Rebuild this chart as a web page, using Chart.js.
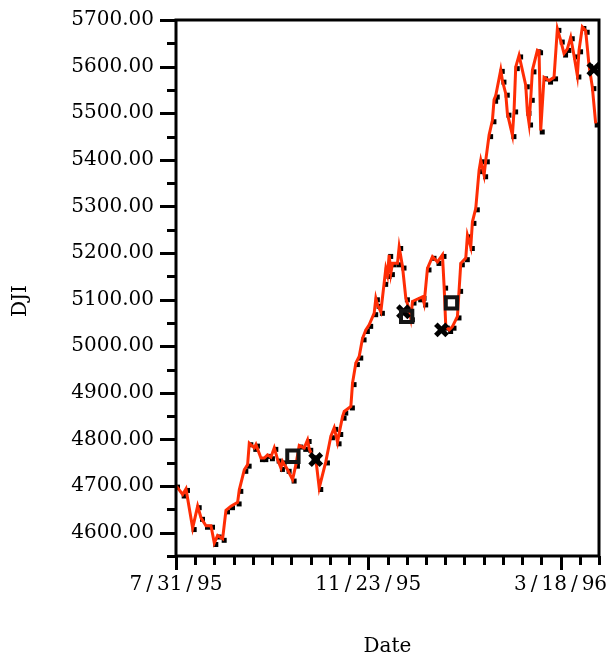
<!DOCTYPE html>
<html>
<head>
<meta charset="utf-8">
<script src="https://cdn.jsdelivr.net/npm/chart.js@4.4.0/dist/chart.umd.min.js"></script>
<style>
  html, body { margin: 0; padding: 0; background: #fff; }
</style>
</head>
<body>
<canvas id="djiChart" width="612" height="660"></canvas>
<script>
// days since 7/31/95, DJI close
const days = [0, 4, 6, 10, 13, 15, 18, 21, 23, 25, 28, 30, 33, 37, 38, 41, 43, 44, 47, 48,
  51, 53, 55, 57, 59, 61, 63, 64, 67, 70, 72, 74, 77, 79, 80, 82, 84, 86, 90, 93,
  95, 97, 98, 100, 101, 105, 106, 108, 110, 112, 114, 116, 119, 120, 121, 123, 125, 126, 127, 128,
  129, 130, 133, 134, 136, 138, 140, 141, 142, 146, 148, 149, 151, 154, 157, 160, 161, 162, 164, 166,
  169, 170, 171, 174, 175, 177, 178, 180, 182, 183, 185, 186, 188, 190, 191, 192, 195, 196, 198, 199,
  202, 203, 204, 206, 210, 211, 212, 213, 214, 217, 218, 219, 221, 224, 227, 229, 231, 233, 235, 237,
  239, 241, 242, 244, 246, 248, 250, 252];
const dji = [4701, 4682, 4694, 4610, 4657, 4632, 4615, 4615, 4578, 4594, 4587, 4648, 4657, 4665, 4692, 4735, 4746, 4792, 4782, 4789,
  4760, 4760, 4767, 4762, 4782, 4757, 4739, 4753, 4735, 4714, 4746, 4787, 4782, 4799, 4780, 4764, 4757, 4696, 4753, 4807,
  4825, 4794, 4814, 4849, 4860, 4871, 4921, 4964, 4978, 5017, 5035, 5046, 5071, 5103, 5089, 5074, 5136, 5167, 5153, 5196,
  5157, 5178, 5178, 5213, 5171, 5103, 5078, 5060, 5096, 5103, 5106, 5092, 5167, 5192, 5181, 5196, 5128, 5042, 5035, 5042,
  5064, 5121, 5178, 5189, 5238, 5213, 5267, 5296, 5378, 5399, 5367, 5399, 5453, 5485, 5529, 5538, 5593, 5570, 5542, 5499,
  5453, 5506, 5599, 5624, 5560, 5503, 5478, 5531, 5592, 5635, 5633, 5463, 5577, 5570, 5577, 5681, 5656, 5628, 5638, 5663,
  5624, 5581, 5635, 5685, 5677, 5603, 5556, 5478];

// highlighted points
const squareDays = [70.2, 138.5, 165.4];
const squareVals = [4764, 5064, 5093];
const crossDays = [83.9, 136.6, 159.4, 250.9];
const crossVals = [4757, 5074, 5035, 5594];

const dateLabels = ['7/31/95', '11/23/95', '3/18/96'];
const xMax = 254; // 4/10/96
const yMin = 4550, yMax = 5700;

const toPts = (xs, ys) => xs.map((d, i) => ({ x: d, y: ys[i] }));
const series = toPts(days, dji);

const serif = "'DejaVu Serif', serif";

// small black square sitting a bit low-right of each vertex, like the original
const dot = document.createElement('canvas');
dot.width = 14;
dot.height = 14;
const dctx = dot.getContext('2d');
dctx.fillStyle = '#000';
dctx.fillRect(6, 6, 5, 5);

// box around the plot, long/short tick marks, rotated y title
const frameTicks = {
  id: 'frameTicks',
  afterDraw(chart) {
    const { ctx, chartArea: a, scales: { x, y } } = chart;
    ctx.save();
    ctx.strokeStyle = '#000';
    ctx.lineWidth = 3;
    ctx.strokeRect(a.left, a.top, a.right - a.left, a.bottom - a.top);
    ctx.beginPath();
    y.ticks.forEach(t => {
      const py = Math.round(y.getPixelForValue(t.value)) + 0.5;
      const len = t.value % 100 === 0 ? 16 : 9;
      ctx.moveTo(a.left - len, py);
      ctx.lineTo(a.left, py);
    });
    x.ticks.forEach((t, i) => {
      const px = Math.round(x.getPixelForValue(t.value)) + 0.5;
      const len = i % 10 === 0 ? 14 : 9;
      ctx.moveTo(px, a.bottom);
      ctx.lineTo(px, a.bottom + len);
    });
    ctx.stroke();

    ctx.translate(21, 301);
    ctx.rotate(-Math.PI / 2);
    ctx.fillStyle = '#000';
    ctx.font = '20px ' + serif;
    ctx.textAlign = 'center';
    ctx.textBaseline = 'middle';
    ctx.fillText('DJI', 0, 0);
    ctx.restore();
  }
};

new Chart(document.getElementById('djiChart'), {
  type: 'scatter',
  data: {
    datasets: [
      {
        data: series,
        showLine: true,
        borderColor: 'rgb(255, 45, 5)',
        borderWidth: 3,
        pointRadius: 0,
        order: 1
      },
      {
        data: series,
        pointStyle: dot,
        pointRadius: 4,
        order: 2
      },
      {
        data: toPts(squareDays, squareVals),
        pointStyle: 'rect',
        pointRadius: 8,
        borderWidth: 4,
        borderColor: '#151515',
        backgroundColor: 'rgba(0,0,0,0)',
        order: 0
      },
      {
        data: toPts(crossDays, crossVals),
        pointStyle: 'crossRot',
        pointRadius: 8,
        borderWidth: 5,
        borderColor: '#000',
        order: 0
      }
    ]
  },
  options: {
    responsive: false,
    animation: false,
    layout: { padding: { top: 20, right: 10, left: 0, bottom: 0 } },
    plugins: { legend: { display: false }, tooltip: { enabled: false } },
    scales: {
      x: {
        type: 'linear',
        min: 0,
        max: xMax,
        afterBuildTicks: (scale) => {
          scale.ticks = Array.from({ length: 23 }, (_, i) => ({ value: i * xMax / 22 }));
        },
        afterFit: (scale) => { scale.height = 104; },
        border: { display: false },
        grid: { drawOnChartArea: false, drawTicks: true, tickLength: 14, tickColor: 'rgba(0,0,0,0)' },
        ticks: {
          autoSkip: false,
          maxRotation: 0,
          padding: 3,
          color: '#000',
          font: { family: serif, size: 20 },
          callback: (v, i) => (i % 10 === 0 ? dateLabels[i / 10].split('/').join('\u2009/\u2009') : '')
        },
        title: {
          display: true,
          text: 'Date',
          color: '#000',
          font: { family: serif, size: 20 },
          padding: { top: 0, bottom: 1 }
        }
      },
      y: {
        min: yMin,
        max: yMax,
        afterFit: (scale) => { scale.width = 176; },
        border: { display: false },
        grid: { drawOnChartArea: false, drawTicks: true, tickLength: 16, tickColor: 'rgba(0,0,0,0)' },
        ticks: {
          stepSize: 50,
          autoSkip: false,
          padding: 6,
          color: '#000',
          font: { family: serif, size: 20 },
          callback: (v) => (v % 100 === 0 ? v.toFixed(2) : '')
        }
      }
    }
  },
  plugins: [frameTicks]
});
</script>
</body>
</html>
